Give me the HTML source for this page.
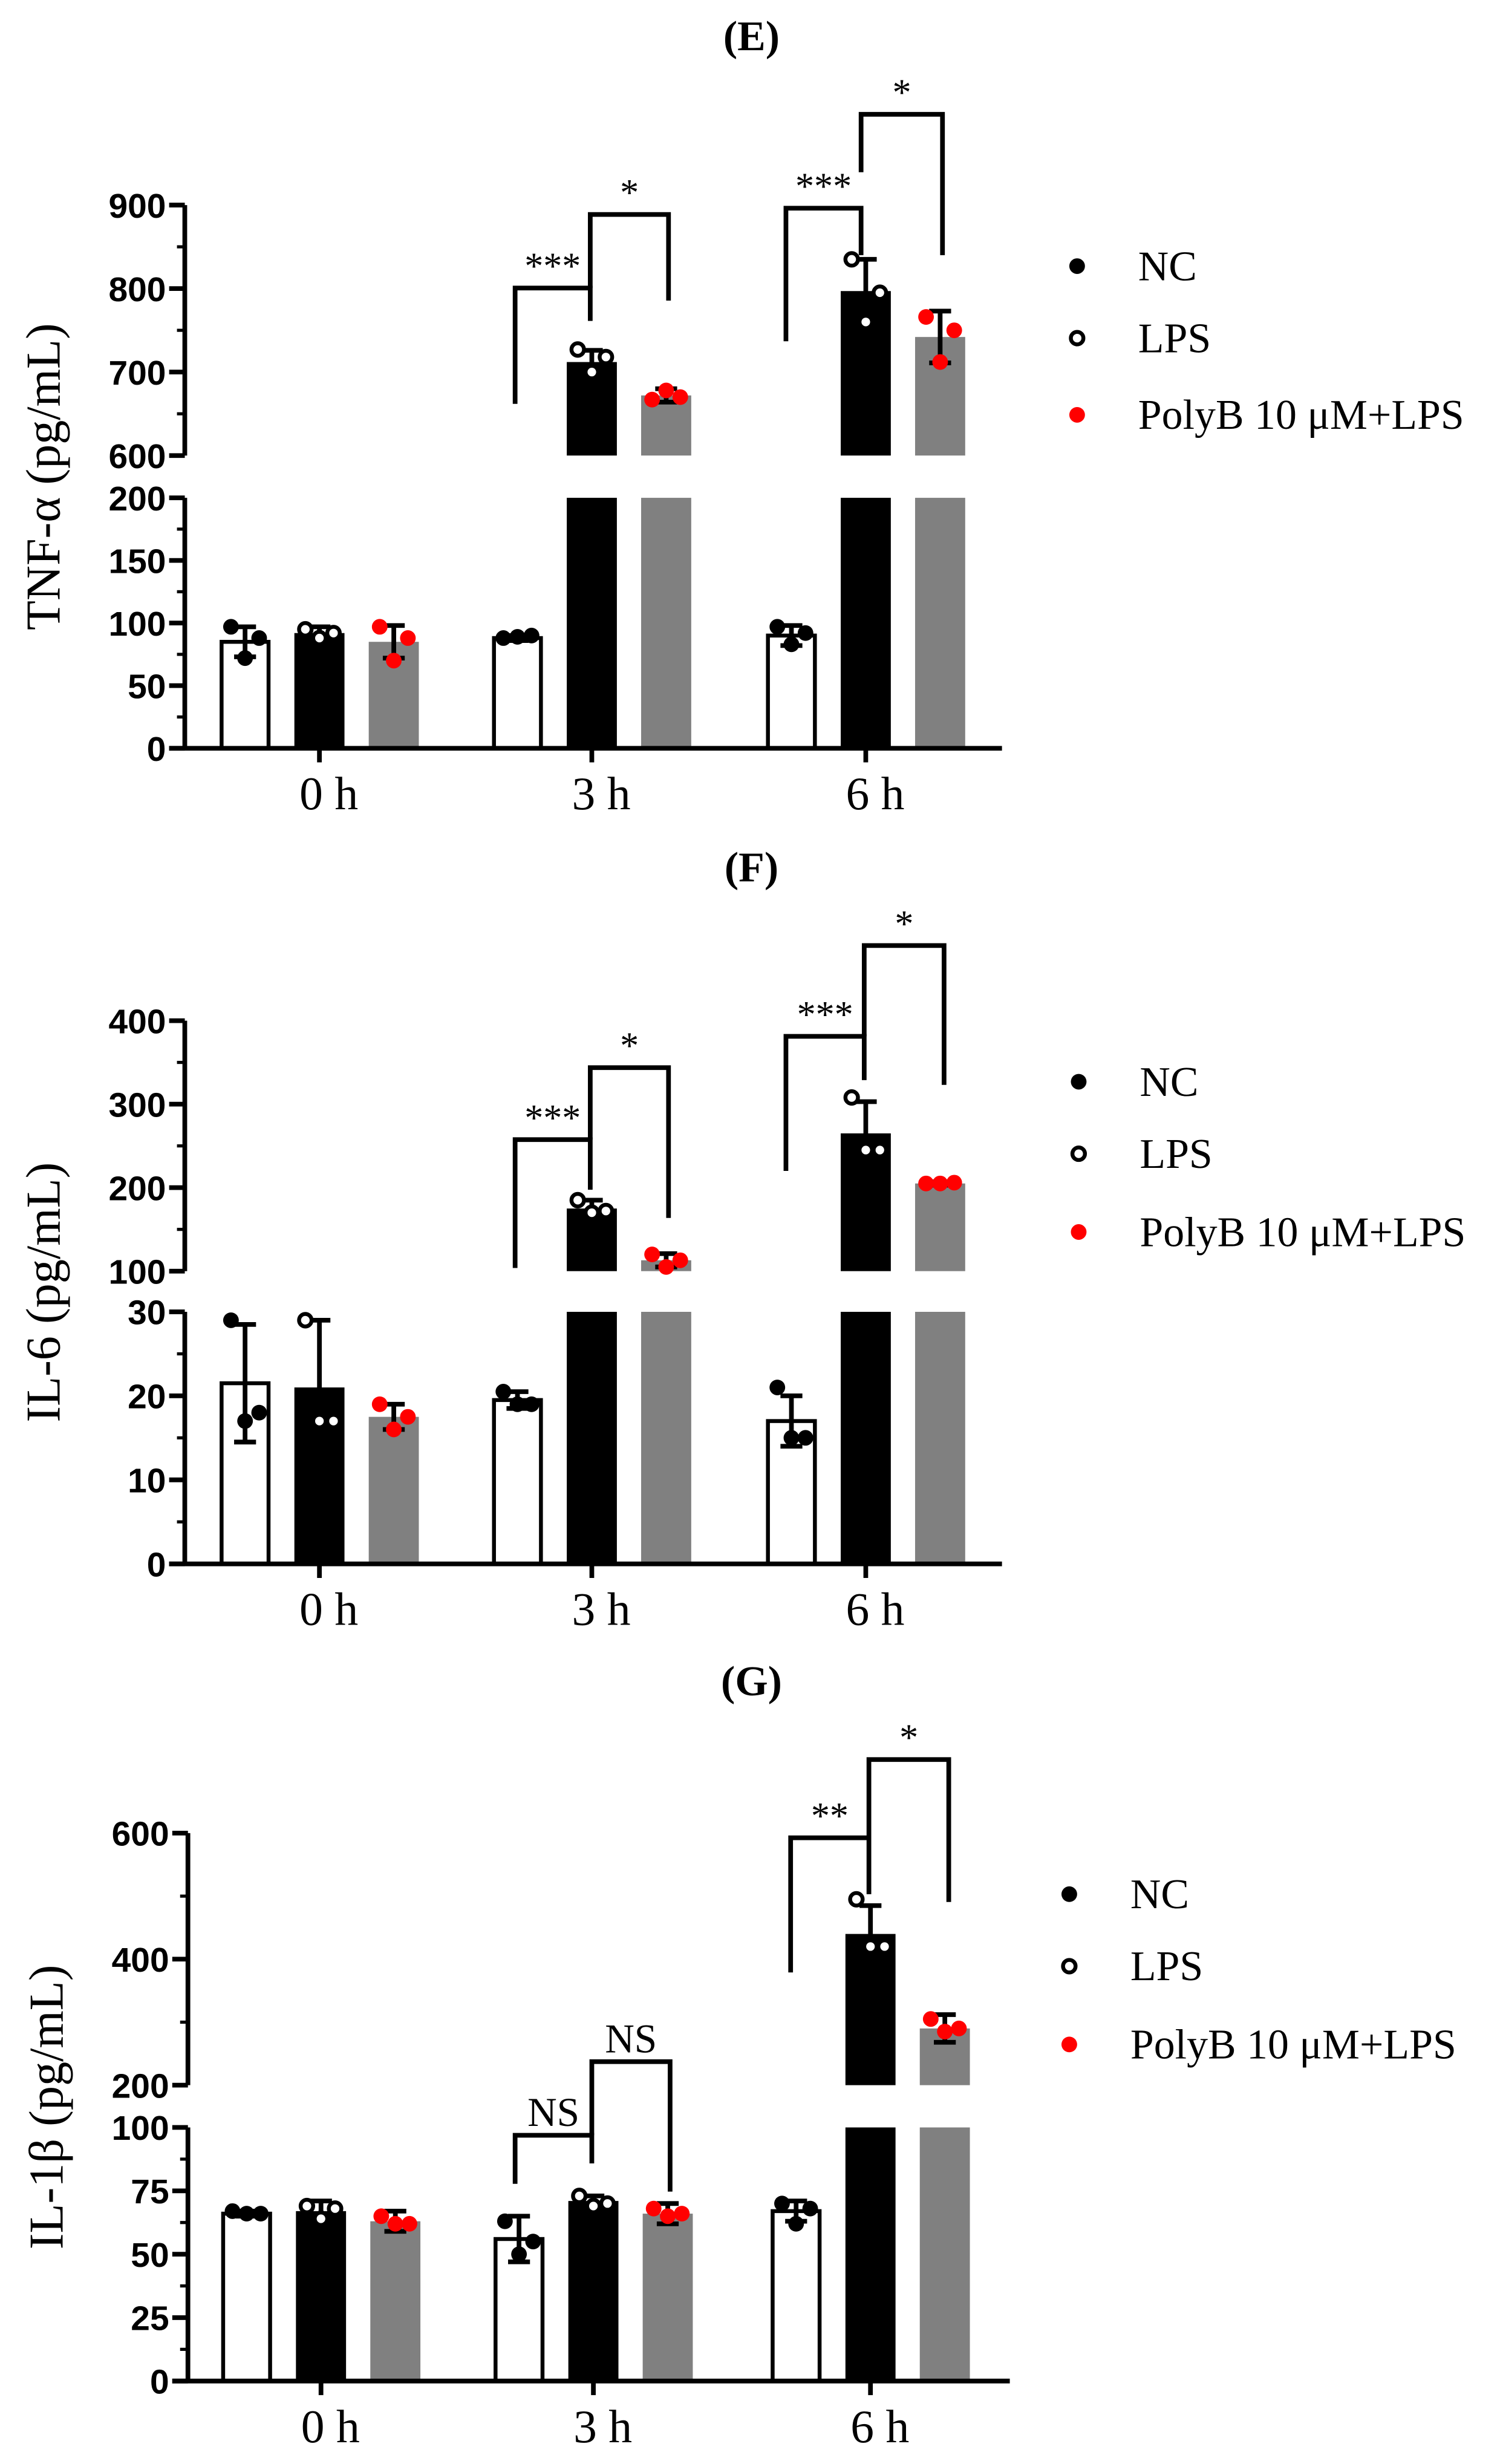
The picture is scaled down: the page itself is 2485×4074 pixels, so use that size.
<!DOCTYPE html>
<html><head><meta charset="utf-8"><style>
html,body{margin:0;padding:0;background:#fff}
svg{display:block}
</style></head><body>
<svg id="chart" xmlns="http://www.w3.org/2000/svg" width="2485" height="4074" viewBox="0 0 960 1574"></svg>
<script>
// ===== Panel E data =====
const groups = ["0 h", "3 h", "6 h"];
const seriesNames = ["NC", "LPS", "PolyB 10 μM+LPS"];
const eMeans = [85, 92, 85, 88, 712, 672, 90, 797, 742];
const eSD = [12, 5, 13, 2, 14, 8, 8, 38, 31];
const ePoints = [[97,72,88],[95,88,92],[97,70,88],[88,89,90],[727,700,718],[667,678,670],[97,83,92],[835,760,795],[766,712,750]];
const eLowTicks = [0, 50, 100, 150, 200];
const eHighTicks = [600, 700, 800, 900];
const eSig = ["***", "*", "***", "*"];
// ===== Panel F data =====
const fMeans = [21.5, 21, 17.5, 19.5, 175, 113, 17, 265, 205];
const fSD = [7, 8, 1.5, 1, 10, 8, 3, 38, 2];
const fPoints = [[29,17,18],[29,17,17],[19,16,17.5],[20.5,19,19],[185,170,172],[120,105,113],[21,15,15],[308,245,245],[205,205,206]];
const fLowTicks = [0, 10, 20, 30];
const fHighTicks = [100, 200, 300, 400];
const fSig = ["***", "*", "***", "*"];
// ===== Panel G data =====
const gMeans = [66, 67, 63, 56, 71, 66, 67, 440, 290];
const gSD = [1, 4, 4, 9, 2, 4, 4, 45, 22];
const gPoints = [[67,66,66],[69,64,68],[65,62,62],[63,50,55],[73,69,70],[68,65,66],[70,62,68],[495,420,420],[305,285,290]];
const gLowTicks = [0, 25, 50, 75, 100];
const gHighTicks = [200, 400, 600];
const gSig = ["NS", "NS", "**", "*"];

const NS = "http://www.w3.org/2000/svg";
const svg = document.getElementById("chart");
function mk(tag, attrs, parent) {
  const e = document.createElementNS(NS, tag);
  for (const k in attrs) e.setAttribute(k, attrs[k]);
  (parent || svg).appendChild(e);
  return e;
}

function drawPanel(c) {
  const g = mk("g", {});
  
  
  const lowMin = c.lowTicks[0], lowMax = c.lowTicks[c.lowTicks.length - 1];
  const hiMin = c.highTicks[0], hiMax = c.highTicks[c.highTicks.length - 1];
  const yLow = v => c.lowBot - (v - lowMin) / (lowMax - lowMin) * (c.lowBot - c.lowTop);
  const yHigh = v => c.hiBot - (v - hiMin) / (hiMax - hiMin) * (c.hiBot - c.hiTop);
  const yv = v => v <= lowMax ? yLow(v) : (v >= hiMin ? yHigh(v) : c.lowTop);
  const barW = 32;
  const xBar = i => c.groupX[Math.floor(i / 3)] + (i % 3 - 1) * c.spacing;

  const t = mk("text", {x: 480, y: c.titleY, "text-anchor": "middle", "font-family": "Liberation Serif, serif", "font-size": 27, "font-weight": "bold"}, g);
  t.textContent = c.title;
  
  

  c.means.forEach((m, i) => {
    const s = i % 3;
    const fill = s === 0 ? "#fff" : (s === 1 ? "#000" : "#808080");
    const stroke = s === 0 ? "#000" : "none";
    const x = xBar(i) - barW / 2;
    const segs = [];
    if (m <= lowMax) segs.push([yLow(m), yLow(0)]);
    else { segs.push([c.lowTop, yLow(0)]); segs.push([yHigh(Math.max(m, hiMin)), c.hiBot]); }
    segs.forEach(sg => {
      const r = mk("rect", {x: x + (s === 0 ? 1 : 0), y: sg[0], width: barW - (s === 0 ? 2 : 0), height: Math.max(0, sg[1] - sg[0]), fill: fill, stroke: stroke, "stroke-width": s === 0 ? 2.5 : 0}, g);
      
      
    });
    const top = yv(m + c.sd[i]), bot = yv(m - c.sd[i]), cx = xBar(i);
    const eb = mk("path", {d: `M${cx},${top}V${bot}M${cx - 7},${top}H${cx + 7}M${cx - 7},${bot}H${cx + 7}`, stroke: "#000", "stroke-width": 3, fill: "none"}, g);
    
    
    c.points[i].forEach((p, j) => {
      const px = cx + (j - 1) * 9;
      const attrs = s === 0 ? {fill: "#000"} : (s === 1 ? {fill: "#fff", stroke: "#000", "stroke-width": 2.5} : {fill: "#f00"});
      attrs.cx = px; attrs.cy = yv(p); attrs.r = s === 1 ? 4 : 5;
      const d = mk("circle", attrs, g);
      
      
    });
  });

  const ax = mk("path", {d: `M${c.axisX},${c.hiTop}V${c.hiBot}M${c.axisX},${c.lowTop}V${c.lowBot}M${c.axisX - 10},${c.lowBot}H${c.xEnd}`, stroke: "#000", "stroke-width": 3, fill: "none"}, g);
  
  
  const tickLab = (v, y) => {
    mk("line", {x1: c.axisX - 10, x2: c.axisX, y1: y, y2: y, stroke: "#000", "stroke-width": 3}, g);
    const tl = mk("text", {x: c.axisX - 12, y: y + 8, "text-anchor": "end", "font-family": "Liberation Sans, sans-serif", "font-size": 22, "font-weight": "bold"}, g);
    tl.textContent = v;
    
    
  };
  c.lowTicks.forEach(v => tickLab(v, yLow(v)));
  c.highTicks.forEach(v => tickLab(v, yHigh(v)));
  const minor = (ticks, f) => {
    for (let k = 0; k < ticks.length - 1; k++) {
      const step = (ticks[k + 1] - ticks[k]) / c.minorDiv;
      for (let q = 1; q < c.minorDiv; q++) {
        const y = f(ticks[k] + q * step);
        mk("line", {x1: c.axisX - 5, x2: c.axisX, y1: y, y2: y, stroke: "#000", "stroke-width": 2}, g);
      }
    }
  };
  minor(c.lowTicks, yLow); minor(c.highTicks, yHigh);
  c.groupX.forEach((gx, k) => {
    mk("line", {x1: gx, x2: gx, y1: c.lowBot, y2: c.lowBot + 9, stroke: "#000", "stroke-width": 3}, g);
    const gl = mk("text", {x: gx + 6, y: c.lowBot + 39, "text-anchor": "middle", "font-family": "Liberation Serif, serif", "font-size": 30}, g);
    gl.textContent = groups[k];
    
    
  });
  const yt = mk("text", {x: 0, y: 0, transform: `translate(${c.axisX - 80},${(c.hiTop + c.lowBot) / 2}) rotate(-90)`, "text-anchor": "middle", "font-family": "Liberation Serif, serif", "font-size": 31}, g);
  yt.textContent = c.ylabel;
  
  

  c.brackets.forEach((b, k) => {
    const p = mk("path", {d: `M${b[0]},${b[3]}V${b[2]}H${b[1]}V${b[4]}`, stroke: "#000", "stroke-width": 3, fill: "none"}, g);
    
    
    const st = mk("text", {x: (b[0] + b[1]) / 2, y: b[2] - 6, "text-anchor": "middle", "font-family": "Liberation Serif, serif", "font-size": c.sig[k].startsWith("N") ? 26 : 24}, g);
    st.textContent = c.sig[k];
    
    
  });

  seriesNames.forEach((n, s) => {
    const ly = c.legY[s];
    const attrs = s === 0 ? {fill: "#000"} : (s === 1 ? {fill: "#fff", stroke: "#000", "stroke-width": 2.5} : {fill: "#f00"});
    attrs.cx = c.legX; attrs.cy = ly; attrs.r = s === 1 ? 4 : 5;
    const d = mk("circle", attrs, g);
    
    
    const lt = mk("text", {x: c.legX + 39, y: ly + 9, "font-family": "Liberation Serif, serif", "font-size": 27}, g);
    lt.textContent = n;
    
    
  });
}

drawPanel({name: "panel-e-tnf", title: "(E)", titleY: 32, ylabel: "TNF-α (pg/mL)",
  means: eMeans, sd: eSD, points: ePoints, lowTicks: eLowTicks, highTicks: eHighTicks, sig: eSig,
  axisX: 118, xEnd: 640, hiTop: 131, hiBot: 291, lowTop: 318, lowBot: 478, minorDiv: 2,
  groupX: [204, 378, 553], spacing: 47.5,
  brackets: [[329, 377, 184, 258, 205], [377, 427, 137, 184, 192], [502, 550, 133, 218, 163], [550, 602, 73, 110, 163]],
  legX: 688, legY: [170, 216, 265]});
drawPanel({name: "panel-f-il6", title: "(F)", titleY: 563, ylabel: "IL-6 (pg/mL)",
  means: fMeans, sd: fSD, points: fPoints, lowTicks: fLowTicks, highTicks: fHighTicks, sig: fSig,
  axisX: 118, xEnd: 640, hiTop: 652, hiBot: 812, lowTop: 838, lowBot: 999, minorDiv: 2,
  groupX: [204, 378, 553], spacing: 47.5,
  brackets: [[329, 377, 728, 810, 760], [377, 427, 682, 728, 778], [502, 552, 662, 748, 690], [552, 603, 604, 662, 693]],
  legX: 689, legY: [691, 737, 787]});
drawPanel({name: "panel-g-il1b", title: "(G)", titleY: 1083, ylabel: "IL-1β (pg/mL)",
  means: gMeans, sd: gSD, points: gPoints, lowTicks: gLowTicks, highTicks: gHighTicks, sig: gSig,
  axisX: 120, xEnd: 645, hiTop: 1171, hiBot: 1332, lowTop: 1359, lowBot: 1521, minorDiv: 2,
  groupX: [205, 379, 556], spacing: 47.5,
  brackets: [[329, 378, 1364, 1395, 1382], [378, 428, 1317, 1364, 1400], [505, 555, 1174, 1260, 1210], [555, 606, 1124, 1174, 1215]],
  legX: 683, legY: [1210, 1256, 1306]});
</script>
</body></html>
